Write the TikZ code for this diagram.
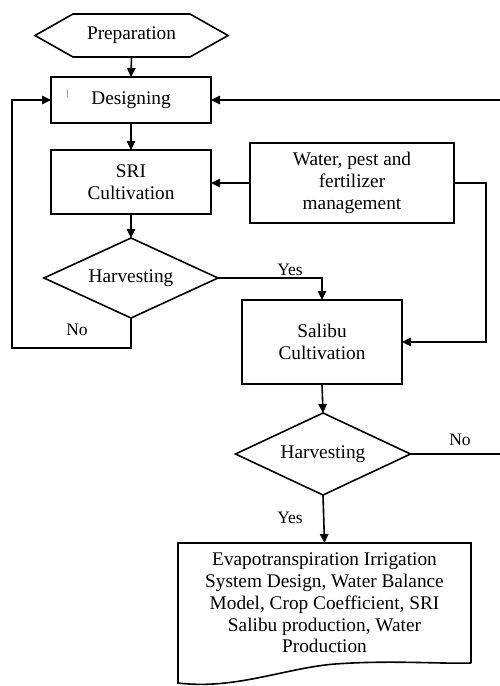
\documentclass[tikz,border=0pt]{standalone}
\usepackage{fontspec}
\setmainfont{Liberation Serif}
\usetikzlibrary{arrows.meta,shapes.geometric}
\begin{document}
\begin{tikzpicture}[x=1pt,y=-1pt,
  every node/.style={font=\fontsize{19.3}{21.8}\selectfont, align=center, inner sep=0pt, outer sep=0pt},
  ln/.style={line width=1.6pt},
  arr/.style={line width=1.6pt, -{Triangle[length=9pt,width=8.5pt]}},
  box/.style={draw, line width=1.6pt, rectangle},
  dec/.style={draw, line width=1.6pt, diamond, aspect=2.2},
  lbl/.style={font=\fontsize{17.5}{20}\selectfont}
]
\useasboundingbox (0,0) rectangle (500,686);

% nodes
\node[minimum width=193pt, minimum height=43pt] (prep) at (131.5,35.5) {Preparation};
\draw[ln, line join=miter] (prep.west) -- ([xshift=38pt]prep.north west) -- ([xshift=-38pt]prep.north east)
  -- (prep.east) -- ([xshift=-38pt]prep.south east) -- ([xshift=38pt]prep.south west) -- cycle;

\node[box, minimum width=160pt, minimum height=46pt] (des) at (131,100) {Designing};
\node[text=gray, font=\fontsize{9}{10}\selectfont] (mark) at (67,94) {]};
\node[box, minimum width=160pt, minimum height=64pt] (sri) at (131,182) {SRI\\Cultivation};
\node[box, minimum width=204pt, minimum height=80pt] (wpf) at (352,183) {Water, pest and\\fertilizer\\management};
\node[dec, minimum width=174pt, minimum height=80pt] (h1) at (131,278) {Harvesting};
\node[box, minimum width=160pt, minimum height=84pt] (sal) at (322,342) {Salibu\\Cultivation};
\node[dec, minimum width=175pt, minimum height=82pt] (h2) at (323,454) {Harvesting};
\node[minimum width=293pt, minimum height=120pt] (doc) at (324.5,603)
  {Evapotranspiration Irrigation\\System Design, Water Balance\\Model, Crop Coefficient, SRI\\Salibu production, Water\\Production};
\draw[ln, line join=miter] (doc.south east) -- (doc.north east) -- (doc.north west) -- (178,683)
  .. controls (235,690) and (285,668) .. (335,664)
  .. controls (390,660) and (440,664) .. (doc.south east);

% helper coordinates
\coordinate (lcorner) at (12,348);
\coordinate (ltop) at (12,100);
\coordinate (redge) at (500,100);
\coordinate (r1) at (486,183);
\coordinate (redge2) at (500,454);

% connectors
\draw[arr] (prep.south) -- (des.north);
\draw[arr] (des.south) -- (sri.north);
\draw[arr] (sri.south) -- (h1.north);
\draw[arr] (wpf.west) -- (sri.east |- wpf.west);
\draw[arr] (wpf.east) -- (r1) |- (sal.east);
\draw[arr] (h1.east) -| (sal.north);
\draw[arr] (h1.south) |- (lcorner) -- (ltop) -- (des.west);
\draw[arr] (redge) -- (des.east);
\draw[arr] (sal.south) -- (h2.north);
\draw[ln] (h2.east) -- (redge2);
\draw[arr] (h2.south) -- (doc.north);

% labels
\node[lbl] (y1) at (290,270) {Yes};
\node[lbl] (n1) at (77,330) {No};
\node[lbl] (n2) at (460,440) {No};
\node[lbl] (y2) at (290,518) {Yes};
\end{tikzpicture}
\end{document}
